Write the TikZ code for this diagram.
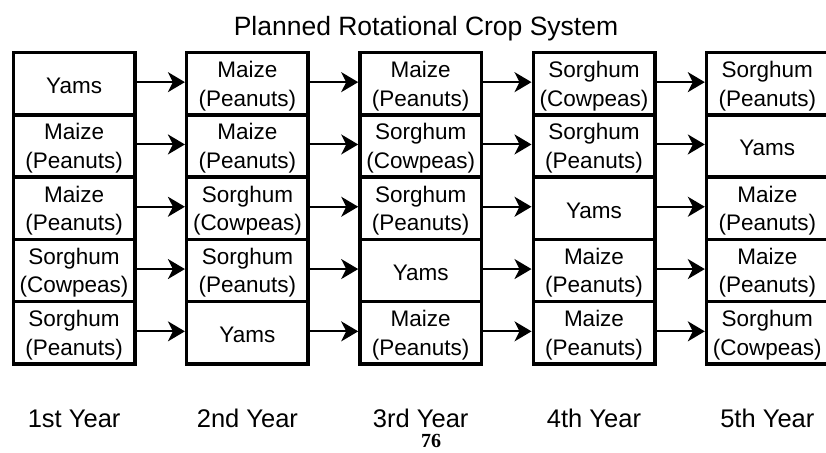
\documentclass[tikz,border=0pt]{standalone}
\usepackage{fontspec}
\setmainfont{Liberation Sans}
\newfontfamily\pagenumfont{Liberation Serif}
\usetikzlibrary{arrows.meta,calc}
\tikzset{
  cropcell/.style={draw=black, line width=3.5pt, minimum width=121.5pt, minimum height=62.3pt, inner sep=0pt},
  croptxt/.style={anchor=base, inner sep=0pt, font=\fontsize{22.5}{27}\selectfont},
  yeartxt/.style={anchor=base, inner sep=0pt, font=\fontsize{25.5}{30}\selectfont},
  titletxt/.style={anchor=base, inner sep=0pt, font=\fontsize{26.5}{31}\selectfont},
  rotarrow/.style={draw=black, line width=2pt, -{Stealth[length=17pt, width=20pt, inset=5pt]}}
}
\newcommand\twocell[4]{%
  \pgfmathsetmacro\cx{74.1+173.3*(#1-1)}%
  \pgfmathsetmacro\ry{52.5+62.3*(#2-1)}%
  \node[cropcell] (c#1#2) at (\cx, \ry+31.15) {};
  \node[croptxt] (t#1#2a) at (\cx, \ry+25) {#3};
  \node[croptxt] (t#1#2b) at (\cx, \ry+53.5) {#4};
}
\newcommand\onecell[3]{%
  \pgfmathsetmacro\cx{74.1+173.3*(#1-1)}%
  \pgfmathsetmacro\ry{52.5+62.3*(#2-1)}%
  \node[cropcell] (c#1#2) at (\cx, \ry+31.15) {};
  \node[croptxt] (t#1#2a) at (\cx, \ry+41) {#3};
}
\begin{document}
\begin{tikzpicture}[x=1pt, y=-1pt]
\fill[white] (0,0) rectangle (826,452);
\useasboundingbox (0,0) rectangle (826,452);
% title
\node[titletxt] (title) at (426,36) {Planned Rotational Crop System};
% column 1
\onecell{1}{1}{Yams}
\twocell{1}{2}{Maize}{(Peanuts)}
\twocell{1}{3}{Maize}{(Peanuts)}
\twocell{1}{4}{Sorghum}{(Cowpeas)}
\twocell{1}{5}{Sorghum}{(Peanuts)}
% column 2
\twocell{2}{1}{Maize}{(Peanuts)}
\twocell{2}{2}{Maize}{(Peanuts)}
\twocell{2}{3}{Sorghum}{(Cowpeas)}
\twocell{2}{4}{Sorghum}{(Peanuts)}
\onecell{2}{5}{Yams}
% column 3
\twocell{3}{1}{Maize}{(Peanuts)}
\twocell{3}{2}{Sorghum}{(Cowpeas)}
\twocell{3}{3}{Sorghum}{(Peanuts)}
\onecell{3}{4}{Yams}
\twocell{3}{5}{Maize}{(Peanuts)}
% column 4
\twocell{4}{1}{Sorghum}{(Cowpeas)}
\twocell{4}{2}{Sorghum}{(Peanuts)}
\onecell{4}{3}{Yams}
\twocell{4}{4}{Maize}{(Peanuts)}
\twocell{4}{5}{Maize}{(Peanuts)}
% column 5
\twocell{5}{1}{Sorghum}{(Peanuts)}
\onecell{5}{2}{Yams}
\twocell{5}{3}{Maize}{(Peanuts)}
\twocell{5}{4}{Maize}{(Peanuts)}
\twocell{5}{5}{Sorghum}{(Cowpeas)}
% arrows
\foreach \i/\k in {1/2,2/3,3/4,4/5}{
  \foreach \j in {1,...,5}{
    \draw[rotarrow] ([yshift=1.5pt]c\i\j.east) -- ([yshift=1.5pt]c\k\j.west);
  }
}
% year labels
\node[yeartxt] (y1) at (74.1,427) {1st Year};
\node[yeartxt] (y2) at (247.4,427) {2nd Year};
\node[yeartxt] (y3) at (420.7,427) {3rd Year};
\node[yeartxt] (y4) at (594.0,427) {4th Year};
\node[yeartxt] (y5) at (767.3,427) {5th Year};
% page number
\node[anchor=base, inner sep=0pt, font=\pagenumfont\bfseries\fontsize{20}{24}\selectfont] (pg) at (431,447) {76};
\end{tikzpicture}
\end{document}
